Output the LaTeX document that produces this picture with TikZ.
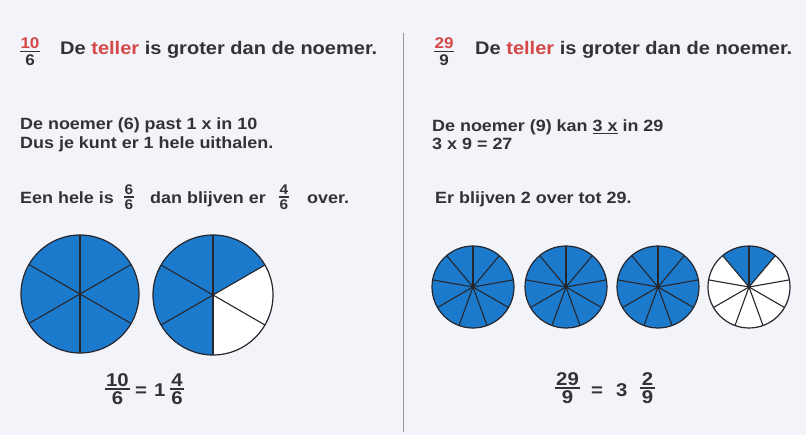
\documentclass[tikz,border=0pt]{standalone}
\usepackage{fontspec}
\setmainfont[FakeStretch=1.1]{Liberation Sans}
\definecolor{bg}{RGB}{243,244,249}
\definecolor{ink}{RGB}{50,50,56}
\definecolor{redt}{RGB}{212,72,72}
\definecolor{blu}{RGB}{28,122,204}
\definecolor{edge}{RGB}{38,38,44}
\definecolor{divc}{RGB}{150,150,160}
\begin{document}
\begin{tikzpicture}[x=1pt,y=-1pt,
  txt/.style={font=\bfseries\fontsize{16.3}{19}\selectfont, text=ink, inner sep=0pt, anchor=base west},
  ttl/.style={font=\bfseries\fontsize{18.2}{21}\selectfont, text=ink, inner sep=0pt, anchor=base west},
  fsmall/.style={font=\bfseries\fontsize{14}{16}\selectfont, text=ink, inner sep=0pt},
  fmid/.style={font=\bfseries\fontsize{15.5}{17}\selectfont, text=ink, inner sep=0pt},
  fbig/.style={font=\bfseries\fontsize{18.5}{21}\selectfont, text=ink, inner sep=0pt},
  fbar/.style={draw=ink, line width=1.4pt},
  rim/.style={draw=edge, line width=1.2pt},
  spoke/.style={draw=edge, line width=1.1pt},
  hub/.style={fill=edge}
]
\fill[bg] (0,0) rectangle (806,435);
\useasboundingbox (0,0) rectangle (806,435);

% fraction macro: name, x, bar y, numerator, denominator, style, bar overhang
\newcommand\Fr[7]{%
  \node[#6, anchor=south] (#1n) at (#2,#3-2.6) {#4};
  \node[#6, anchor=north] (#1d) at (#2,#3+2.8) {#5};
  \draw[fbar] ([shift={(-#7,2.6)}]#1n.south west) -- ([shift={(#7,2.6)}]#1n.south east);
}

% divider
\coordinate (divtop) at (403,33);
\coordinate (divbot) at (403,432);
\draw[divc, line width=1pt] (divtop) -- (divbot);

% ---------- left half ----------
\Fr{tl}{30}{51.5}{\textcolor{redt}{10}}{6}{fmid}{0.5}
\node[ttl] (titleL) at (60,55) {De \textcolor{redt}{teller} is groter dan de noemer.};

\node[txt] (l1) at (20,130) {De noemer (6) past 1 x in 10};
\node[txt] (l2) at (20,149) {Dus je kunt er 1 hele uithalen.};
\node[txt] (l3a) at (20,204) {Een hele is};
\Fr{sa}{129}{197}{6}{6}{fsmall}{0.5}
\node[txt] (l3b) at (150,204) {dan blijven er};
\Fr{sb}{284}{197}{4}{6}{fsmall}{0.5}
\node[txt] (l3c) at (307,204) {over.};

% circles (angles are measured with y pointing down)
\coordinate (L1) at (80,294);
\coordinate (L2) at (213,295);
\fill[blu] (L1) circle[radius=59];
\foreach \a in {30,90,...,330} \draw[spoke] (L1) -- ++(\a:59);
\draw[rim] (L1) circle[radius=59];
\fill[hub] (L1) circle[radius=1.4];

\fill[white] (L2) circle[radius=60];
\fill[blu] (L2) -- ++(90:60) arc[start angle=90, end angle=330, radius=60] -- cycle;
\foreach \a in {30,90,...,330} \draw[spoke] (L2) -- ++(\a:60);
\draw[rim] (L2) circle[radius=60];
\fill[hub] (L2) circle[radius=1.4];

% result
\Fr{rl}{117.5}{389}{10}{6}{fbig}{0.8}
\node[fbig, anchor=base west] (eqL) at (135,397) {=};
\node[fbig, anchor=base west] (oneL) at (154,397) {1};
\Fr{rlb}{177}{389}{4}{6}{fbig}{1.2}

% ---------- right half ----------
\Fr{tr}{444}{51.5}{\textcolor{redt}{29}}{9}{fmid}{0.5}
\node[ttl] (titleR) at (475,55) {De \textcolor{redt}{teller} is groter dan de noemer.};

\node[txt] (r1) at (432,132) {De noemer (9) kan \underline{3 x} in 29};
\node[txt] (r2) at (432,150) {3 x 9 = 27};
\node[txt] (r3) at (435,204) {Er blijven 2 over tot 29.};

\foreach \n/\cx in {1/473,2/566,3/658} {
  \coordinate (R\n) at (\cx,287);
  \fill[blu] (R\n) circle[radius=41];
  \foreach \a in {30,70,...,350} \draw[spoke] (R\n) -- ++(\a:41);
  \draw[rim] (R\n) circle[radius=41];
  \fill[hub] (R\n) circle[radius=1.3];
}
\coordinate (R4) at (749,287);
\fill[white] (R4) circle[radius=41];
\fill[blu] (R4) -- ++(230:41) arc[start angle=230, end angle=310, radius=41] -- cycle;
\foreach \a in {30,70,...,350} \draw[spoke] (R4) -- ++(\a:41);
\draw[rim] (R4) circle[radius=41];
\fill[hub] (R4) circle[radius=1.3];

\Fr{rr}{567.5}{388}{29}{9}{fbig}{0.8}
\node[fbig, anchor=base west] (eqR) at (591,397) {=};
\node[fbig, anchor=base west] (threeR) at (616,397) {3};
\Fr{rrb}{647.5}{388}{2}{9}{fbig}{1.5}
\end{tikzpicture}
\end{document}
